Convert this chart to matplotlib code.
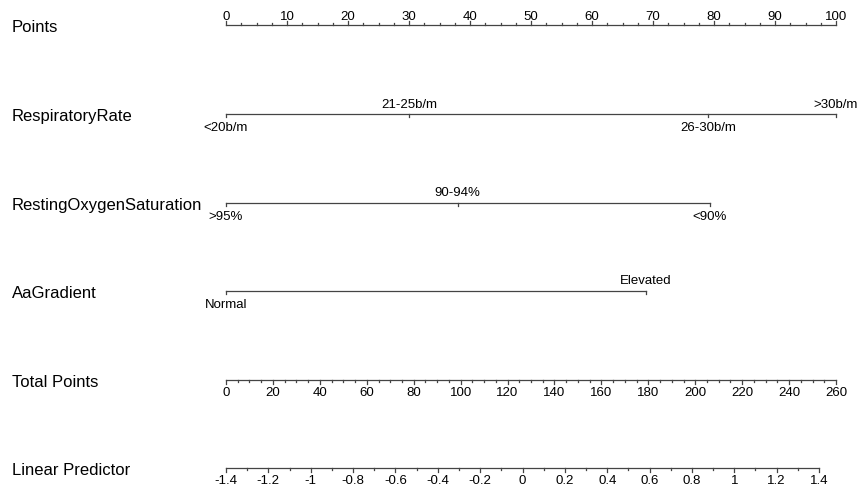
import matplotlib
matplotlib.use("Agg")
import matplotlib.pyplot as plt
import numpy as np

plt.rcParams['font.family'] = ['Liberation Sans', 'DejaVu Sans']

# ---- data ----
points_ticks = [0, 10, 20, 30, 40, 50, 60, 70, 80, 90, 100]
resp_labels = ["<20b/m", "21-25b/m", "26-30b/m", ">30b/m"]
resp_points = [0, 30, 79, 100]
oxy_labels = [">95%", "90-94%", "<90%"]
oxy_points = [0, 38, 79.3]
aa_labels = ["Normal", "Elevated"]
aa_points = [0, 68.8]
total_ticks = [0, 20, 40, 60, 80, 100, 120, 140, 160, 180, 200, 220, 240, 260]
lp_ticks = [-1.4, -1.2, -1, -0.8, -0.6, -0.4, -0.2, 0, 0.2, 0.4, 0.6, 0.8, 1, 1.2, 1.4]
lp_tick_labels = ["-1.4", "-1.2", "-1", "-0.8", "-0.6", "-0.4", "-0.2", "0",
                  "0.2", "0.4", "0.6", "0.8", "1", "1.2", "1.4"]
row_names = ["Points", "RespiratoryRate", "RestingOxygenSaturation", "AaGradient",
             "Total Points", "Linear Predictor"]

W, H = 864, 491
fig = plt.figure(figsize=(W / 100, H / 100), dpi=100)
ax = fig.add_axes([0, 0, 1, 1])
x0, x1 = 226, 836          # pixel extent of points 0..100
scale = (x1 - x0) / 100.0
ax.set_xlim(-x0 / scale, (W - x0) / scale)
ax.set_ylim(H, 0)
ax.axis('off')

px = 1.0 / scale  # one pixel in point units
lc = '#444444'
lw = 0.9
tfs = 9.5
rfs = 12

row_y = [25, 114, 203, 291, 380, 468]
for name, y in zip(row_names, row_y):
    ax.text(12 * px - x0 / scale, y + 2.5, name, fontsize=rfs, va='center', ha='left')

# Points axis
y = row_y[0]
ax.plot([0, 100], [y, y], color=lc, lw=lw)
for v in np.arange(0, 100.01, 2.5):
    major = abs(v % 10) < 1e-9
    ax.plot([v, v], [y, y - (4 if major else 2)], color=lc, lw=lw)
for v in points_ticks:
    ax.text(v, y - 8, str(v), fontsize=tfs, ha='center', va='center')

# Categorical axes
def cat_axis(y, pts, labels):
    ax.plot([min(pts), max(pts)], [y, y], color=lc, lw=lw)
    for i, (p, lab) in enumerate(zip(pts, labels)):
        ax.plot([p, p], [y, y + 3], color=lc, lw=lw)
        if i % 2 == 0:
            ax.text(p, y + 13.5, lab, fontsize=tfs, ha='center', va='center')
        else:
            ax.text(p, y - 9.5, lab, fontsize=tfs, ha='center', va='center')

cat_axis(row_y[1], resp_points, resp_labels)
cat_axis(row_y[2], oxy_points, oxy_labels)
cat_axis(row_y[3], aa_points, aa_labels)

# Total points axis
y = row_y[4]
tp_scale = 100.0 / 260.0
ax.plot([0, 100], [y, y], color=lc, lw=lw)
for v in np.arange(0, 260.01, 5):
    major = abs(v % 20) < 1e-9
    ax.plot([v * tp_scale] * 2, [y, y + (4 if major else 2)], color=lc, lw=lw)
for v in total_ticks:
    ax.text(v * tp_scale, y + 13, str(v), fontsize=tfs, ha='center', va='center')

# Linear predictor axis
y = row_y[5]
lp_end = (819 - x0) / scale
def lp_pos(v):
    return (v - lp_ticks[0]) / (lp_ticks[-1] - lp_ticks[0]) * lp_end
ax.plot([lp_pos(lp_ticks[0]), lp_pos(lp_ticks[-1])], [y, y], color=lc, lw=lw)
for v in np.arange(-1.4, 1.4001, 0.1):
    major = abs(round(v * 10) % 2) == 0
    ax.plot([lp_pos(v)] * 2, [y, y + (4 if major else 2)], color=lc, lw=lw)
for v, lab in zip(lp_ticks, lp_tick_labels):
    ax.text(lp_pos(v), y + 13, lab, fontsize=tfs, ha='center', va='center')

fig.savefig("out.png", dpi=100)
